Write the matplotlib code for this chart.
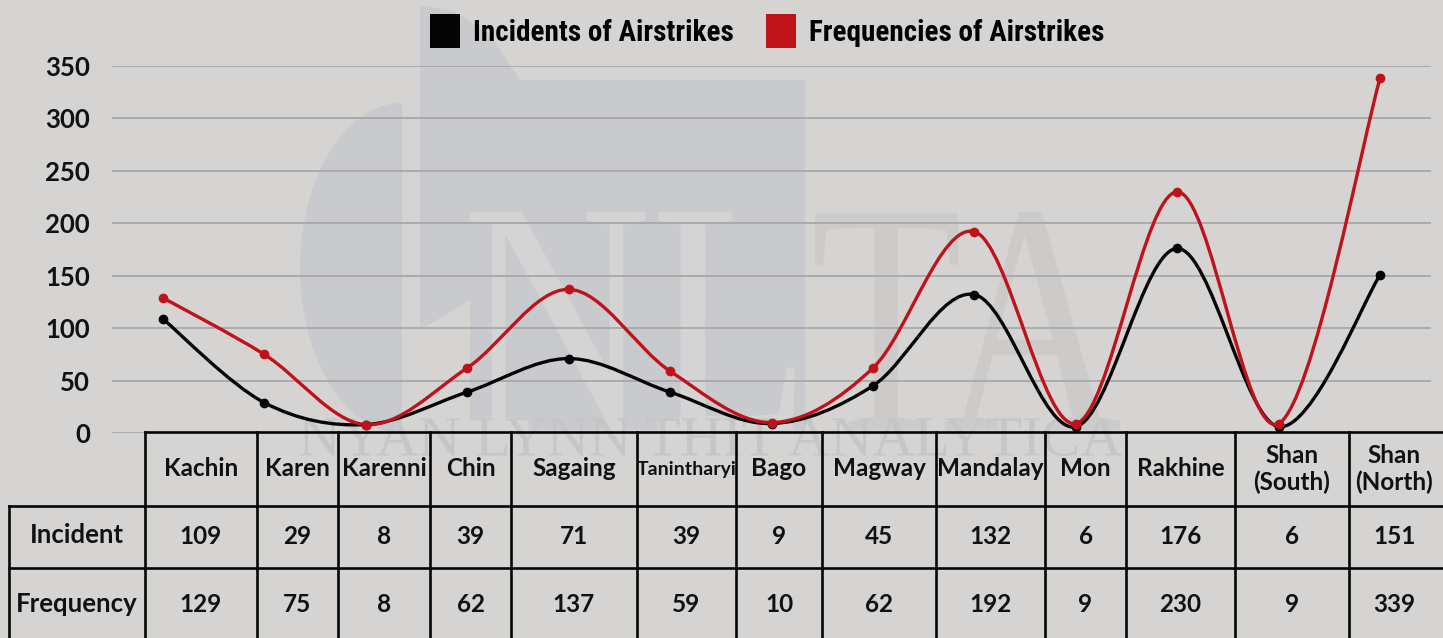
import numpy as np
import matplotlib.pyplot as plt
from matplotlib.path import Path
from matplotlib.patches import PathPatch, Patch, Rectangle, Ellipse, Polygon
from matplotlib.textpath import TextPath
from matplotlib.font_manager import FontProperties
from matplotlib.transforms import Affine2D

# dados
regions = ["Kachin", "Karen", "Karenni", "Chin", "Sagaing", "Tanintharyi", "Bago",
           "Magway", "Mandalay", "Mon", "Rakhine", "Shan\n(South)", "Shan\n(North)"]
incidents = [109, 29, 8, 39, 71, 39, 9, 45, 132, 6, 176, 6, 151]
frequencies = [129, 75, 8, 62, 137, 59, 10, 62, 192, 9, 230, 9, 339]
yticks = [0, 50, 100, 150, 200, 250, 300, 350]

# cores
bg = "#d5d4d3"
black = "#050505"
red = "#c0121a"
grid = "#a5a5a5"

W, H = 1443, 638
fig = plt.figure(figsize=(W / 100, H / 100), dpi=100, facecolor=bg)

# camada de fundo (marca d'agua), coordenadas em pixels
bg_ax = fig.add_axes([0, 0, 1, 1], zorder=0)
bg_ax.set_xlim(0, W)
bg_ax.set_ylim(H, 0)
bg_ax.axis("off")

wm = "#c9cacd"
bg_ax.add_patch(Ellipse((402, 268), 204, 330, facecolor=wm, edgecolor="none"))
bg_ax.add_patch(Rectangle((402, 80), 100, 360, facecolor=bg, edgecolor="none"))
bg_ax.add_patch(Polygon([(420, 5), (455, 12), (490, 35), (520, 80), (805, 80), (805, 430),
                         (470, 430), (470, 300), (420, 330)], closed=True,
                        facecolor=wm, edgecolor="none"))


def fit_text(ax, s, box, color, family, weight="normal", alpha=1.0):
    x0, y0, x1, y1 = box
    tp = TextPath((0, 0), s, size=1, prop=FontProperties(family=family, weight=weight))
    ext = tp.get_extents()
    sx = (x1 - x0) / ext.width
    sy = (y1 - y0) / ext.height
    tr = Affine2D().translate(-ext.x0, -ext.y0).scale(sx, -sy).translate(x0, y1)
    ax.add_patch(PathPatch(tr.transform_path(tp), facecolor=color, edgecolor="none", alpha=alpha))


fit_text(bg_ax, "NL", (470, 212, 795, 430), "#d4d4d4", "Liberation Serif")
fit_text(bg_ax, "TA", (815, 212, 1120, 430), "#cccbca", "Liberation Serif")
fit_text(bg_ax, "NYAN LYNN THIT ANALYTICA", (300, 418, 1122, 456), "#c6c6c6", "Liberation Serif")

# grafico principal
ax = fig.add_axes([112 / W, (H - 433) / H, (1431 - 112) / W, (433 - 66) / H], zorder=1)
ax.patch.set_alpha(0)
ax.set_xlim(-0.5, len(regions) - 0.5)
ax.set_ylim(0, 350)
for s in ax.spines.values():
    s.set_visible(False)
ax.set_xticks([])
ax.set_yticks(yticks)
ax.tick_params(axis="y", length=0, pad=16)
for lab in ax.get_yticklabels():
    lab.set_fontfamily("Lato")
    lab.set_fontweight("bold")
    lab.set_fontsize(18.5)
    lab.set_color("#111111")
ax.grid(axis="y", color=grid, linewidth=1.2)
ax.set_axisbelow(True)


def smooth_path(xs, ys):
    p = np.column_stack([xs, ys]).astype(float)
    ext = np.vstack([p[0], p, p[-1]])
    verts = [p[0]]
    codes = [Path.MOVETO]
    for i in range(len(p) - 1):
        c1 = ext[i + 1] + (ext[i + 2] - ext[i]) / 6
        c2 = ext[i + 2] - (ext[i + 3] - ext[i + 1]) / 6
        verts += [c1, c2, ext[i + 2]]
        codes += [Path.CURVE4] * 3
    return Path(verts, codes)


x = np.arange(len(regions))
for vals, col in [(incidents, black), (frequencies, red)]:
    ax.add_patch(PathPatch(smooth_path(x, vals), facecolor="none", edgecolor=col,
                           linewidth=2.4, clip_on=False, zorder=3))
    ax.plot(x, vals, "o", color=col, markersize=6, clip_on=False, zorder=4)

# legenda
handles = [Patch(facecolor=black, edgecolor="none"), Patch(facecolor=red, edgecolor="none")]
fig.legend(handles, ["Incidents of Airstrikes", "Frequencies of Airstrikes"],
           loc="center", bbox_to_anchor=(767 / W, 1 - 31 / H), ncol=2, frameon=False,
           handlelength=1.03, handleheight=1.4, handletextpad=0.45, columnspacing=1.1,
           prop=FontProperties(family=["Roboto Condensed", "DejaVu Sans"],
                               weight="bold", stretch="condensed", size=21))

# tabela
tb = fig.add_axes([0, 0, 1, 1], zorder=2)
tb.set_xlim(0, W)
tb.set_ylim(H, 0)
tb.axis("off")
tb.patch.set_alpha(0)

cols = [145, 257, 338, 430, 511, 637, 736, 822, 936, 1045, 1126, 1235, 1349, 1470]
lw = 1.9
tb.plot([145, W], [432, 432], color=black, lw=lw)
tb.plot([9, W], [506, 506], color=black, lw=lw)
tb.plot([9, W], [568, 568], color=black, lw=lw)
tb.plot([9, 9], [506, H + 5], color=black, lw=lw)
for cx in cols:
    tb.plot([cx, cx], [432, H + 5], color=black, lw=lw)

tfont = dict(family="Lato", weight="bold", color="#111111", ha="center", va="center")
for i, name in enumerate(regions):
    cx = (cols[i] + cols[i + 1]) / 2 if i < len(regions) - 1 else (cols[i] + 1440) / 2
    size = 14 if name == "Tanintharyi" else 17.5
    tb.text(cx, 469, name, fontsize=size, linespacing=1.2, **tfont)
    tb.text(cx, 536, str(incidents[i]), fontsize=17.5, **tfont)
    tb.text(cx, 604, str(frequencies[i]), fontsize=17.5, **tfont)
tb.text(77, 535, "Incident", fontsize=18.5, **tfont)
tb.text(77, 604, "Frequency", fontsize=18.5, **tfont)

fig.savefig("out.png", dpi=100, facecolor=bg)
